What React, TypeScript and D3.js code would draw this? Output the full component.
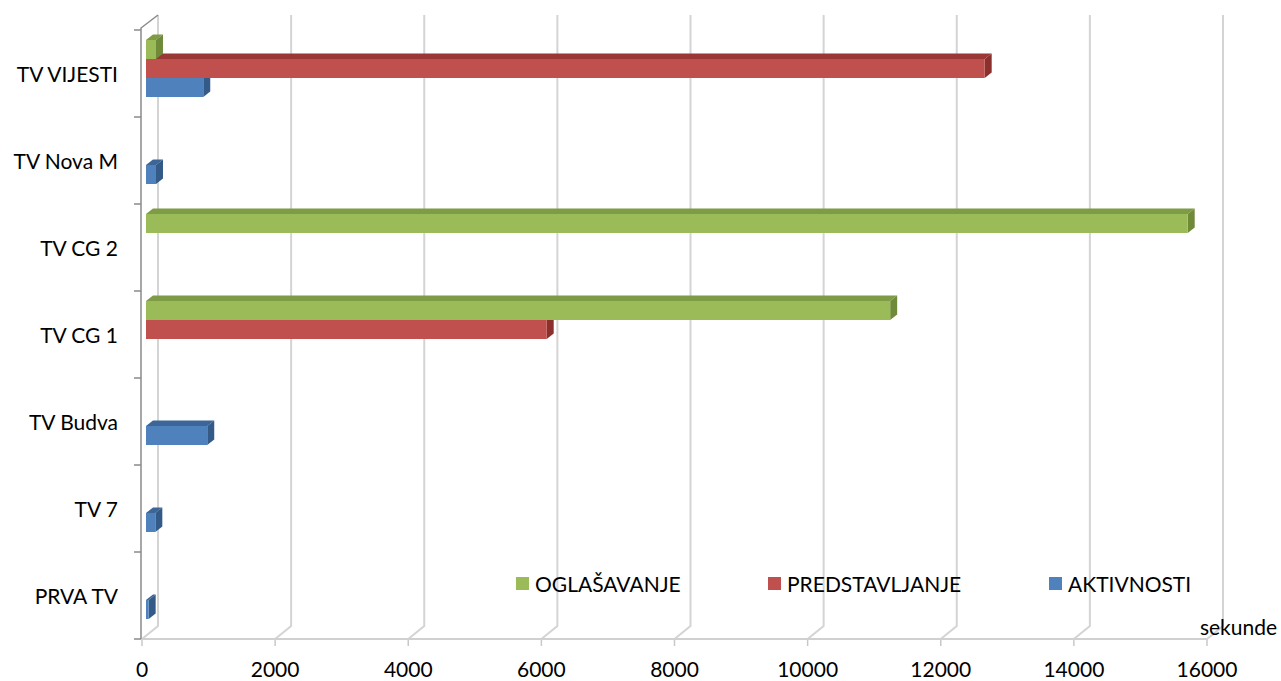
import React from 'react';
import * as d3 from 'd3';

// categories drawn top to bottom
const categories = ['TV VIJESTI', 'TV Nova M', 'TV CG 2', 'TV CG 1', 'TV Budva', 'TV 7', 'PRVA TV'];
const seriesNames = ['OGLAŠAVANJE', 'PREDSTAVLJANJE', 'AKTIVNOSTI'];
const oglasavanje = [150, 0, 15650, 11180, 0, 0, 0];
const predstavljanje = [12600, 0, 0, 6020, 0, 0, 0];
const aktivnosti = [860, 150, 0, 0, 920, 140, 40];
const xTicks = [0, 2000, 4000, 6000, 8000, 10000, 12000, 14000, 16000];

const colors = {
  'OGLAŠAVANJE': { front: '#9BBB59', top: '#7E9C45', side: '#6F8B3A' },
  'PREDSTAVLJANJE': { front: '#C0504D', top: '#9A3835', side: '#8C302D' },
  'AKTIVNOSTI': { front: '#4F81BD', top: '#3C6598', side: '#345a88' },
};

const W = 1281;
const H = 681;
const FONT = 'Lato, "Open Sans", sans-serif';

export default function App() {
  const x = d3.scaleLinear().domain([0, 16000]).range([142, 1207]);
  const y = d3.scaleBand().domain(categories).range([30, 639]);
  const sub = d3.scaleBand().domain(seriesNames).range([10, 67]);

  // depth of the plot box and of the bars
  const depth = { dx: 16, dy: -13 };
  const barOff = 4;
  const barD = { dx: 7, dy: -5.5 };
  const floorY = 639;
  const topY = 28;

  const values: Record<string, number[]> = {
    'OGLAŠAVANJE': oglasavanje,
    'PREDSTAVLJANJE': predstavljanje,
    'AKTIVNOSTI': aktivnosti,
  };

  // draw lower bars first so upper front faces cover top faces
  const bars: { key: string; cat: string; v: number }[] = [];
  [...categories].reverse().forEach((cat) => {
    [...seriesNames].reverse().forEach((s) => {
      const v = values[s][categories.indexOf(cat)];
      if (v > 0) bars.push({ key: s, cat, v });
    });
  });

  const x0 = x(0);

  return (
    <svg width={W} height={H} style={{ position: 'absolute', left: 0, top: 0, background: '#fff' }}>
      {/* gridlines with floor slant */}
      {xTicks.map((t) => (
        <g key={t}>
          <polyline
            points={`${x(t)},${floorY} ${x(t) + depth.dx},${floorY + depth.dy} ${x(t) + depth.dx},${topY + depth.dy}`}
            fill="none"
            stroke="#D4D4D4"
            strokeWidth={2}
          />
          <line x1={x(t)} x2={x(t)} y1={floorY} y2={floorY + 7} stroke="#C8C8C8" strokeWidth={1.5} />
          <text x={x(t)} y={677} textAnchor="middle" fontFamily={FONT} fontSize={21} fill="#000">
            {t}
          </text>
        </g>
      ))}
      <line x1={x0} x2={x(16000)} y1={floorY} y2={floorY} stroke="#D0D0D0" strokeWidth={2} />

      {/* left axis */}
      <polyline
        points={`${x0 + depth.dx},${topY + depth.dy} ${x0 - 1},${topY} ${x0 - 1},${floorY}`}
        fill="none"
        stroke="#8A8A8A"
        strokeWidth={1.5}
      />
      {[...categories.map((c) => y(c) as number), floorY].map((yy, i) => (
        <line key={i} x1={x0 - 8} x2={x0 - 1} y1={yy} y2={yy} stroke="#8A8A8A" strokeWidth={1.5} />
      ))}
      {categories.map((c) => (
        <text
          key={c}
          x={118}
          y={(y(c) as number) + y.bandwidth() / 2}
          textAnchor="end"
          dominantBaseline="central"
          fontFamily={FONT}
          fontSize={21}
          fill="#000"
        >
          {c}
        </text>
      ))}

      {/* bars */}
      {bars.map((b, i) => {
        const c = colors[b.key as keyof typeof colors];
        const bx0 = x0 + barOff;
        const bx1 = x(b.v) + barOff;
        const by0 = (y(b.cat) as number) + (sub(b.key) as number);
        const by1 = by0 + sub.bandwidth();
        const { dx, dy } = barD;
        return (
          <g key={i}>
            <polygon
              points={`${bx0},${by0} ${bx1},${by0} ${bx1 + dx},${by0 + dy} ${bx0 + dx},${by0 + dy}`}
              fill={c.top}
            />
            <polygon
              points={`${bx1},${by0} ${bx1 + dx},${by0 + dy} ${bx1 + dx},${by1 + dy} ${bx1},${by1}`}
              fill={c.side}
            />
            <rect x={bx0} y={by0} width={bx1 - bx0} height={by1 - by0} fill={c.front} />
          </g>
        );
      })}

      {/* legend */}
      {seriesNames.map((s, i) => {
        const lx = [516, 768, 1049][i];
        return (
          <g key={s}>
            <rect x={lx} y={577} width={13} height={13} fill={colors[s as keyof typeof colors].front} />
            <text x={lx + 19} y={592} fontFamily={FONT} fontSize={21} fill="#000">
              {s}
            </text>
          </g>
        );
      })}

      <text x={1277} y={635} textAnchor="end" fontFamily={FONT} fontSize={21} fill="#000">
        sekunde
      </text>
    </svg>
  );
}
